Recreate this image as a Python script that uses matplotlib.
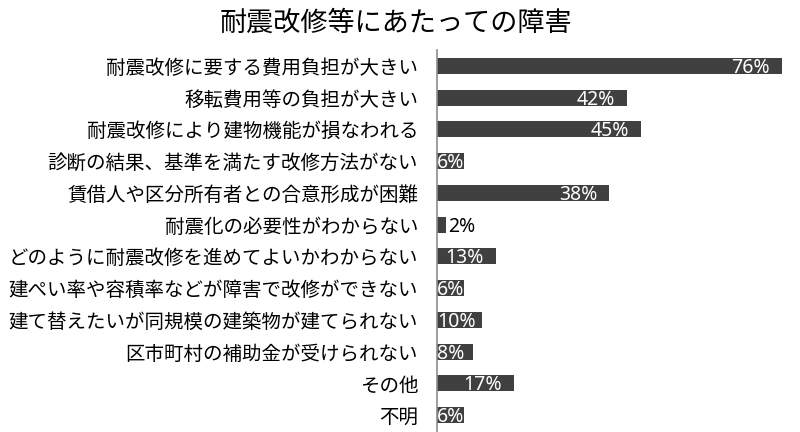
"""
Horizontal bar chart: obstacles to seismic retrofitting.
"""

import matplotlib
matplotlib.use('Agg')

import matplotlib.pyplot as plt
from matplotlib.transforms import offset_copy

plt.rcParams['font.family'] = ['Noto Sans CJK JP', 'DejaVu Sans']

title = '耐震改修等にあたっての障害'
categories = [
    '耐震改修に要する費用負担が大きい',
    '移転費用等の負担が大きい',
    '耐震改修により建物機能が損なわれる',
    '診断の結果、基準を満たす改修方法がない',
    '賃借人や区分所有者との合意形成が困難',
    '耐震化の必要性がわからない',
    'どのように耐震改修を進めてよいかわからない',
    '建ぺい率や容積率などが障害で改修ができない',
    '建て替えたいが同規模の建築物が建てられない',
    '区市町村の補助金が受けられない',
    'その他',
    '不明',
]
values = [76, 42, 45, 6, 38, 2, 13, 6, 10, 8, 17, 6]

bar_color = '#404040'
num_font = ['Noto Sans', 'DejaVu Sans']

fig = plt.figure(figsize=(8, 4.32), dpi=100)
ax = fig.add_axes([0.546, 0.0023, 0.454, 0.882])

y = list(range(len(categories)))
ax.barh(y, values, height=0.5, color=bar_color)
ax.set_ylim(len(categories) - 0.5, -0.5)
ax.set_xlim(0, 80)

ax.set_yticks(y)
ax.set_yticklabels(categories, fontsize=14)
ax.tick_params(axis='y', length=0, pad=13.5)
ax.set_xticks([])
for side in ['top', 'right', 'bottom']:
    ax.spines[side].set_visible(False)
ax.spines['left'].set_color('#8c8c8c')
ax.spines['left'].set_linewidth(1.2)

# value labels, roughly like Excel's "inside end"
for yi, v in zip(y, values):
    label = f'{v}%'
    if v < 5:
        tr = offset_copy(ax.transData, fig=fig, x=2, y=-2, units='dots')
        ax.text(v, yi, label, transform=tr, ha='left', va='center',
                fontsize=14, color='black', family=num_font)
    elif v < 12:
        tr = offset_copy(ax.transData, fig=fig, x=0, y=-2, units='dots')
        ax.text(0, yi, label, transform=tr, ha='left', va='center',
                fontsize=14, color='white', family=num_font)
    else:
        tr = offset_copy(ax.transData, fig=fig, x=-12, y=-2, units='dots')
        ax.text(v, yi, label, transform=tr, ha='right', va='center',
                fontsize=14, color='white', family=num_font)

fig.text(0.495, 0.947, title, ha='center', va='center', fontsize=19.5)

fig.savefig('out.png', dpi=100, facecolor='white')
